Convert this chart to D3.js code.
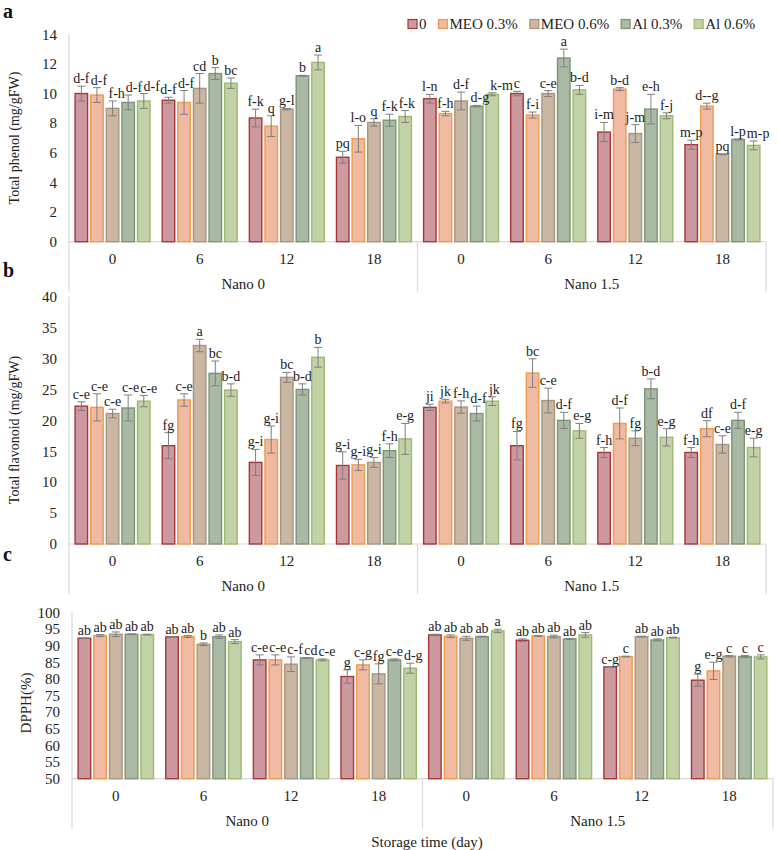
<!DOCTYPE html>
<html>
<head>
<meta charset="utf-8">
<script src="https://cdn.jsdelivr.net/npm/d3@7"></script>
<style>
body { margin: 0; background: #fff; }
svg text { font-family: "Liberation Serif", "Times New Roman", serif !important; }
</style>
</head>
<body>
<svg id="chart" width="778" height="850"></svg>
<script>
var series = ["0", "MEO 0.3%", "MEO 0.6%", "Al 0.3%", "Al 0.6%"];
var days = ["0", "6", "12", "18"];
var nanoLevels = ["Nano 0", "Nano 1.5"];

// one row per group: Nano 0 day 0,6,12,18 then Nano 1.5 day 0,6,12,18
var phenolMean = [
	[10.0, 9.9, 9.0, 9.4, 9.5],
	[9.55, 9.4, 10.35, 11.35, 10.7],
	[8.35, 7.8, 8.95, 11.2, 12.1],
	[5.7, 6.95, 8.05, 8.2, 8.45],
	[9.65, 8.65, 9.5, 9.15, 9.95],
	[10.0, 8.55, 10.0, 12.4, 10.25],
	[7.4, 10.3, 7.3, 8.95, 8.5],
	[6.55, 9.15, 5.9, 6.9, 6.5]
];
var phenolErr = [
	[0.5, 0.5, 0.5, 0.5, 0.5],
	[0.2, 0.8, 1.0, 0.4, 0.35],
	[0.6, 0.7, 0.05, 0.03, 0.5],
	[0.4, 0.9, 0.25, 0.4, 0.4],
	[0.3, 0.15, 0.6, 0.05, 0.1],
	[0.15, 0.2, 0.2, 0.6, 0.3],
	[0.65, 0.1, 0.6, 1.0, 0.2],
	[0.3, 0.2, 0.03, 0.03, 0.3]
];
var phenolLetters = [
	["d-f", "d-f", "f-h", "d-f", "d-f"],
	["d-f", "d-f", "cd", "b", "bc"],
	["f-k", "q", "g-l", "b", "a"],
	["pq", "l-o", "q", "f-k", "f-k"],
	["l-n", "f-h", "d-f", "d-g", "k-m"],
	["c", "f-i", "c-e", "a", "b-d"],
	["i-m", "b-d", "j-m", "e-h", "f-j"],
	["m-p", "d--g", "pq", "l-p", "m-p"]
];
var phenolTicks = [0, 2, 4, 6, 8, 10, 12, 14];

var flavMean = [
	[22.3, 22.1, 21.1, 22.0, 23.1],
	[15.9, 23.3, 32.1, 27.6, 24.9],
	[13.2, 16.9, 26.95, 25.0, 30.2],
	[12.7, 12.8, 13.2, 15.1, 17.0],
	[22.1, 23.1, 22.15, 21.1, 23.1],
	[15.9, 27.65, 23.2, 20.0, 18.3],
	[14.8, 19.5, 17.1, 25.1, 17.25],
	[14.8, 18.65, 16.1, 20.0, 15.6]
];
var flavErr = [
	[0.7, 2.2, 0.7, 2.1, 0.9],
	[2.1, 1.0, 1.0, 2.0, 1.0],
	[2.1, 2.2, 0.8, 0.9, 1.6],
	[2.2, 0.9, 0.8, 1.1, 2.5],
	[0.5, 0.3, 1.0, 1.2, 0.7],
	[2.3, 2.3, 2.0, 1.3, 1.2],
	[0.8, 2.5, 1.2, 1.6, 1.4],
	[0.8, 1.3, 1.4, 1.3, 1.5]
];
var flavLetters = [
	["c-e", "c-e", "c-e", "c-e", "c-e"],
	["fg", "c-e", "a", "bc", "b-d"],
	["g-i", "g-i", "bc", "b-d", "b"],
	["g-i", "g-i", "g-i", "f-h", "e-g"],
	["ji", "jk", "f-h", "d-f", "jk"],
	["fg", "bc", "c-e", "d-f", "e-g"],
	["f-h", "d-f", "fg", "b-d", "e-g"],
	["f-h", "df", "c-e", "d-f", "e-g"]
];
var flavTicks = [0, 5, 10, 15, 20, 25, 30, 35, 40];

var dpphMean = [
	[92.2, 93.0, 93.4, 93.4, 93.3],
	[92.6, 92.7, 90.4, 92.7, 91.2],
	[85.7, 85.7, 84.4, 86.3, 85.7],
	[80.7, 84.2, 81.5, 85.7, 83.2],
	[93.2, 92.8, 92.2, 92.7, 94.4],
	[91.6, 92.9, 92.7, 92.0, 93.2],
	[83.6, 86.7, 92.7, 91.7, 92.4],
	[79.6, 82.4, 86.8, 86.7, 86.6]
];
var dpphErr = [
	[0.1, 0.3, 0.7, 0.1, 0.1],
	[0.1, 0.3, 0.4, 0.5, 0.6],
	[1.5, 1.5, 2.2, 0.1, 0.3],
	[2.0, 1.5, 3.0, 0.3, 1.5],
	[0.2, 0.4, 0.6, 0.1, 0.5],
	[0.4, 0.1, 0.4, 0.1, 0.7],
	[0.1, 0.1, 0.1, 0.3, 0.1],
	[1.8, 2.6, 0.2, 0.3, 0.6]
];
var dpphLetters = [
	["ab", "ab", "ab", "ab", "ab"],
	["ab", "ab", "b", "ab", "ab"],
	["c-e", "c-e", "c-f", "cd", "c-e"],
	["g", "c-g", "fg", "c-e", "d-g"],
	["ab", "ab", "ab", "ab", "a"],
	["ab", "ab", "ab", "ab", "ab"],
	["c-g", "c", "ab", "ab", "ab"],
	["g", "e-g", "c", "c", "c"]
];
var dpphTicks = [50, 55, 60, 65, 70, 75, 80, 85, 90, 95, 100];

var fills = ["#cc9a9e", "#f0b9a1", "#c9b6a3", "#a9b9a3", "#c3d2a6"];
var strokes = ["#a8353a", "#eb9c4c", "#a8957f", "#7e9474", "#9cb872"];
var axisColor = "#d9d9d9";
var serif = "Liberation Serif";

var svg = d3.select("#chart");

function drawPanel(p)
{
	var g = svg.append("g").attr("font-family", serif);
	var groups = d3.range(8);

	var x = d3.scaleBand().domain(groups).range([p.left, p.right]).padding(0);
	var xs = d3.scaleBand().domain(d3.range(series.length))
		.range([0, x.bandwidth()]).paddingInner(0.2).paddingOuter(0.39);
	var y = d3.scaleLinear().domain([p.ticks[0], p.ticks[p.ticks.length - 1]])
		.range([p.bottom, p.top]);

	// y axis labels
	var yAxis = d3.axisLeft(y).tickValues(p.ticks).tickSize(0).tickPadding(0);
	var ya = g.append("g").attr("transform", "translate(" + p.tickX + ",0)").call(yAxis);
	ya.attr("font-family", serif);
	ya.select(".domain").remove();
	ya.selectAll("text").attr("font-size", 15).attr("fill", "#222");

	// category axis lines
	var catBottom = p.bottom + 50;
	g.append("line").attr("x1", p.left).attr("x2", p.right)
		.attr("y1", p.bottom).attr("y2", p.bottom)
		.attr("stroke", axisColor).attr("stroke-width", 1.2);
	g.append("line").attr("x1", p.left).attr("x2", p.left)
		.attr("y1", p.top).attr("y2", catBottom)
		.attr("stroke", axisColor).attr("stroke-width", 1.2);
	[4, 8].forEach(function(i) {
		var sx = i == 8 ? p.right : x(i);
		g.append("line").attr("x1", sx).attr("x2", sx)
			.attr("y1", p.bottom).attr("y2", catBottom)
			.attr("stroke", axisColor).attr("stroke-width", 1.2);
	});

	// day labels and nano labels
	g.selectAll("text.day").data(groups).enter().append("text")
		.attr("class", "day")
		.attr("x", function(d) { return x(d) + x.bandwidth() / 2; })
		.attr("y", p.bottom + 17).attr("dy", "0.35em")
		.attr("text-anchor", "middle").attr("font-size", 15).attr("fill", "#222")
		.text(function(d) { return days[d % 4]; });
	g.selectAll("text.nano").data(nanoLevels).enter().append("text")
		.attr("class", "nano")
		.attr("x", function(d, i) { return (x(i * 4) + (i == 1 ? p.right : x(4))) / 2; })
		.attr("y", p.bottom + 42).attr("dy", "0.35em")
		.attr("text-anchor", "middle").attr("font-size", 15).attr("fill", "#222")
		.text(function(d) { return d; });

	// bars
	var cells = [];
	groups.forEach(function(gi) {
		series.forEach(function(s, si) {
			cells.push({ g: gi, s: si, v: p.mean[gi][si], e: p.err[gi][si], t: p.letters[gi][si] });
		});
	});
	var bx = function(d) { return x(d.g) + xs(d.s); };

	g.selectAll("rect.bar").data(cells).enter().append("rect")
		.attr("class", "bar")
		.attr("x", bx)
		.attr("y", function(d) { return y(d.v); })
		.attr("width", xs.bandwidth())
		.attr("height", function(d) { return p.bottom - y(d.v); })
		.attr("fill", function(d) { return fills[d.s]; })
		.attr("stroke", function(d) { return strokes[d.s]; })
		.attr("stroke-width", 1.4);

	// error bars
	var eb = g.selectAll("g.err").data(cells).enter().append("g")
		.attr("class", "err")
		.attr("stroke", "#7f7f7f").attr("stroke-width", 1);
	var cx = function(d) { return bx(d) + xs.bandwidth() / 2; };
	eb.append("line")
		.attr("x1", cx).attr("x2", cx)
		.attr("y1", function(d) { return y(d.v - d.e); })
		.attr("y2", function(d) { return y(d.v + d.e); });
	[-1, 1].forEach(function(sign) {
		eb.append("line")
			.attr("x1", function(d) { return cx(d) - 4; })
			.attr("x2", function(d) { return cx(d) + 4; })
			.attr("y1", function(d) { return y(d.v + sign * d.e); })
			.attr("y2", function(d) { return y(d.v + sign * d.e); });
	});

	// letters
	var labs = g.selectAll("text.lab").data(cells).enter().append("text")
		.attr("class", "lab")
		.attr("x", cx)
		.attr("y", function(d) { return y(d.v + d.e) - 3; })
		.attr("text-anchor", "middle").attr("font-size", 14).attr("fill", "#222")
		.text(function(d) { return d.t; });

	// nudge a label sideways when it runs into its left neighbour
	var prev = null;
	labs.each(function(d) {
		var b = this.getBBox();
		if (prev && d.s > 0) {
			var overlapX = prev.x + prev.width - b.x;
			var overlapY = !(b.y > prev.y + prev.height || prev.y > b.y + b.height);
			if (overlapX > 0.5 && overlapY) {
				d3.select(this).attr("x", cx(d) + overlapX + 1);
				b = this.getBBox();
			}
		}
		prev = b;
	});

	// y title
	g.append("text")
		.attr("transform", "translate(" + p.titleX + "," + p.titleY + ") rotate(-90)")
		.attr("text-anchor", "middle").attr("dy", "0.35em")
		.attr("font-size", p.titleSize).attr("fill", "#222")
		.text(p.title);

	// panel letter
	g.append("text").attr("x", 3).attr("y", p.letterY)
		.attr("font-size", 20).attr("font-weight", "bold").attr("fill", "#111")
		.text(p.letter);
}

function drawLegend()
{
	var lg = svg.append("g").attr("transform", "translate(408,24)").attr("font-family", serif);
	var cur = 0;
	series.forEach(function(s, i) {
		lg.append("rect").attr("x", cur).attr("y", -4.5).attr("width", 9).attr("height", 9)
			.attr("fill", fills[i]).attr("stroke", strokes[i]).attr("stroke-width", 1.2);
		var t = lg.append("text").attr("x", cur + 11).attr("y", 0).attr("dy", "0.35em")
			.attr("font-size", 15).attr("fill", "#222").text(s);
		cur += 11 + t.node().getComputedTextLength() + 12;
	});
}

drawPanel({
	mean: phenolMean, err: phenolErr, letters: phenolLetters, ticks: phenolTicks,
	left: 69, right: 766, top: 34.3, bottom: 241.7, tickX: 57,
	title: "Total phenol (mg/gFW)", titleX: 14, titleY: 138, titleSize: 14,
	letter: "a", letterY: 18
});
drawPanel({
	mean: flavMean, err: flavErr, letters: flavLetters, ticks: flavTicks,
	left: 69, right: 766, top: 296.7, bottom: 544, tickX: 57,
	title: "Total flavonoid (mg/gFW)", titleX: 14, titleY: 430, titleSize: 14,
	letter: "b", letterY: 277
});
drawPanel({
	mean: dpphMean, err: dpphErr, letters: dpphLetters, ticks: dpphTicks,
	left: 72, right: 773, top: 612.3, bottom: 778.7, tickX: 60,
	title: "DPPH(%)", titleX: 26, titleY: 703, titleSize: 15,
	letter: "c", letterY: 561
});
drawLegend();

svg.append("text").attr("x", 427).attr("y", 842).attr("dy", "0.35em")
	.attr("font-family", serif)
	.attr("text-anchor", "middle").attr("font-size", 15).attr("fill", "#222")
	.text("Storage time (day)");
</script>
</body>
</html>
